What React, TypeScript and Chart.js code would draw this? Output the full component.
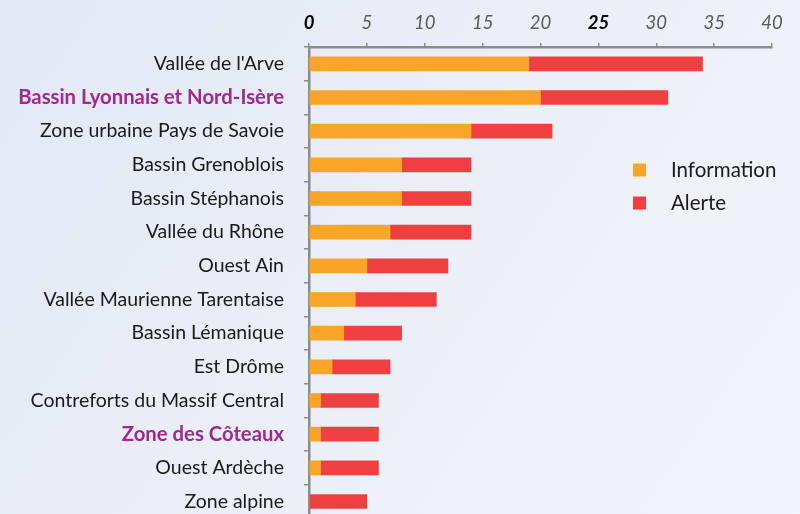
import React, { useEffect, useRef } from "react";
import { Chart, registerables } from "chart.js";

Chart.register(...registerables);

const categories = [
  "Vallée de l'Arve",
  "Bassin Lyonnais et Nord-Isère",
  "Zone urbaine Pays de Savoie",
  "Bassin Grenoblois",
  "Bassin Stéphanois",
  "Vallée du Rhône",
  "Ouest Ain",
  "Vallée Maurienne Tarentaise",
  "Bassin Lémanique",
  "Est Drôme",
  "Contreforts du Massif Central",
  "Zone des Côteaux",
  "Ouest Ardèche",
  "Zone alpine",
];
const highlighted = ["Bassin Lyonnais et Nord-Isère", "Zone des Côteaux"];
const information = [19, 20, 14, 8, 8, 7, 5, 4, 3, 2, 1, 1, 1, 0];
const alerte = [15, 11, 7, 6, 6, 7, 7, 7, 5, 5, 5, 5, 5, 5];
const boldTicks = [0, 25];

const FONT = "Lato, 'Open Sans', sans-serif";

const bgPlugin = {
  id: "bg",
  beforeDraw(chart: any) {
    const { ctx, width, height } = chart;
    ctx.save();
    const g = ctx.createLinearGradient(0, 0, width, height);
    g.addColorStop(0, "#E2E8F5");
    g.addColorStop(1, "#F3F6FB");
    ctx.fillStyle = g;
    ctx.fillRect(0, 0, width, height);
    ctx.restore();
  },
};

const legendPlugin = {
  id: "customLegend",
  afterDraw(chart: any) {
    const { ctx } = chart;
    ctx.save();
    chart.data.datasets.forEach((ds: any, i: number) => {
      const y = 170 + i * 33;
      ctx.fillStyle = ds.backgroundColor;
      ctx.fillRect(633, y - 6.5, 13, 13);
      ctx.fillStyle = "#1a1a1a";
      ctx.font = `20.5px ${FONT}`;
      ctx.textBaseline = "middle";
      ctx.textAlign = "left";
      ctx.fillText(ds.label, 671, y);
    });
    ctx.restore();
  },
};

export default function App() {
  const ref = useRef<HTMLCanvasElement>(null);
  useEffect(() => {
    if (!ref.current) return;
    const chart = new Chart(ref.current, {
      type: "bar",
      data: {
        labels: categories,
        datasets: [
          {
            label: "Information",
            data: information,
            backgroundColor: "#F8A52A",
            barThickness: 14,
          },
          {
            label: "Alerte",
            data: alerte,
            backgroundColor: "#EE4040",
            barThickness: 14,
          },
        ],
      },
      options: {
        indexAxis: "y",
        responsive: false,
        animation: false,
        layout: { padding: { top: 0, right: 28, bottom: 3, left: 0 } },
        plugins: {
          legend: { display: false },
          tooltip: { enabled: false },
        },
        scales: {
          x: {
            position: "top",
            stacked: true,
            min: 0,
            max: 40,
            ticks: {
              stepSize: 5,
              padding: 9,
              color: (c: any) =>
                boldTicks.includes(c.tick?.value) ? "#000000" : "#5a5a5a",
              font: (c: any) => ({
                family: FONT,
                size: 18.5,
                style: "italic",
                weight: boldTicks.includes(c.tick?.value) ? "bold" : "normal",
              }),
            },
            grid: {
              drawOnChartArea: false,
              drawTicks: true,
              tickLength: 4,
              color: "#8c8c8c",
              lineWidth: 1.5,
            },
            border: { color: "#8c8c8c", width: 2.5 },
            afterFit(scale: any) {
              scale.height = 47;
            },
          },
          y: {
            stacked: true,
            ticks: {
              padding: 20,
              autoSkip: false,
              color: (c: any) =>
                highlighted.includes(categories[c.index]) ? "#A1288E" : "#1a1a1a",
              font: (c: any) =>
                highlighted.includes(categories[c.index])
                  ? { family: FONT, size: 20.3, weight: "bold" }
                  : { family: FONT, size: 19.5, weight: "normal" },
            },
            grid: {
              drawOnChartArea: false,
              drawTicks: true,
              tickLength: 5,
              color: "#8c8c8c",
              lineWidth: 1.5,
            },
            border: { color: "#8c8c8c", width: 2.5 },
            afterFit(scale: any) {
              scale.width = 309;
            },
          },
        },
      },
      plugins: [bgPlugin, legendPlugin],
    });
    return () => chart.destroy();
  }, []);
  return (
    <div style={{ position: "fixed", top: 0, left: 0, width: 800, height: 550 }}>
      <canvas ref={ref} width={800} height={550} style={{ display: "block" }} />
    </div>
  );
}
